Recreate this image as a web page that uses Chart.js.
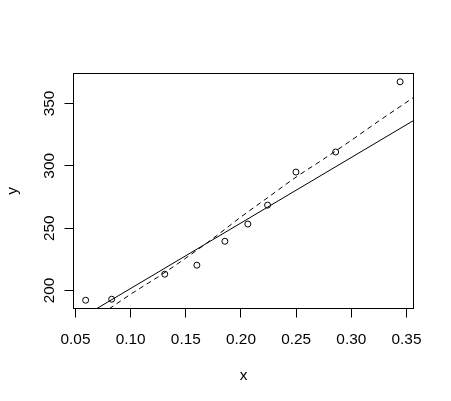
<!DOCTYPE html>
<html>
<head>
<meta charset="utf-8">
<style>
  html, body { margin: 0; padding: 0; background: #ffffff; }
  #wrap { width: 451px; height: 401px; }
</style>
<script src="https://cdn.jsdelivr.net/npm/chart.js@4/dist/chart.umd.min.js"></script>
</head>
<body>
<div id="wrap"><canvas id="c" width="451" height="401"></canvas></div>
<script>
// observed points
const pointX = [0.0592, 0.0828, 0.1309, 0.1600, 0.1854, 0.2062, 0.2241, 0.2498, 0.2858, 0.3442];
const pointY = [192.2, 193.0, 213.1, 220.3, 239.5, 253.3, 268.5, 295.0, 311.1, 367.4];
// solid straight line (read endpoints)
const solidX = [0.0689, 0.3565];
const solidY = [185.3, 336.4];
// dashed curve
const dashX = [0.0805, 0.1, 0.125, 0.15, 0.175, 0.2, 0.225, 0.25, 0.275, 0.3, 0.325, 0.3565];
const dashY = [185.3, 197, 211, 226, 242, 259, 275, 291, 305.5, 320.5, 336, 354.9];
// axis ticks
const xTicks = [0.05, 0.10, 0.15, 0.20, 0.25, 0.30, 0.35];
const xTickLabels = ["0.05", "0.10", "0.15", "0.20", "0.25", "0.30", "0.35"];
const yTicks = [200, 250, 300, 350];
const yTickLabels = ["200", "250", "300", "350"];
const xTitle = "x";
const yTitle = "y";

const FONT = '15.4px "Liberation Sans", Arial, sans-serif';

const toXY = (xs, ys) => xs.map((x, i) => ({ x: x, y: ys[i] }));

const rAxes = {
  id: 'rAxes',
  afterDraw(chart) {
    const ctx = chart.ctx;
    const a = chart.chartArea;
    const xs = chart.scales.x, ys = chart.scales.y;
    ctx.save();
    ctx.strokeStyle = '#000';
    ctx.fillStyle = '#000';
    ctx.lineWidth = 1;
    // box
    ctx.strokeRect(a.left, a.top, a.right - a.left, a.bottom - a.top);
    // x axis ticks
    ctx.beginPath();
    xTicks.forEach(v => {
      const px = Math.round(xs.getPixelForValue(v) - 0.5) + 0.5;
      ctx.moveTo(px, a.bottom);
      ctx.lineTo(px, a.bottom + 9);
    });
    yTicks.forEach(v => {
      const py = Math.round(ys.getPixelForValue(v) - 0.5) + 0.5;
      ctx.moveTo(a.left, py);
      ctx.lineTo(a.left - 9, py);
    });
    ctx.stroke();
    ctx.font = FONT;
    ctx.textAlign = 'center';
    ctx.textBaseline = 'alphabetic';
    xTicks.forEach((v, i) => {
      ctx.fillText(xTickLabels[i], xs.getPixelForValue(v), 343.5);
    });
    ctx.fillText(xTitle, (a.left + a.right) / 2, 380);
    yTicks.forEach((v, i) => {
      ctx.save();
      ctx.translate(53.5, ys.getPixelForValue(v));
      ctx.rotate(-Math.PI / 2);
      ctx.fillText(yTickLabels[i], 0, 0);
      ctx.restore();
    });
    ctx.save();
    ctx.translate(17, (a.top + a.bottom) / 2);
    ctx.rotate(-Math.PI / 2);
    ctx.fillText(yTitle, 0, 0);
    ctx.restore();
    ctx.restore();
  }
};

new Chart(document.getElementById('c'), {
  type: 'scatter',
  data: {
    datasets: [
      {
        label: 'points',
        data: toXY(pointX, pointY),
        pointStyle: 'circle',
        pointRadius: 3,
        pointBorderWidth: 1,
        pointBorderColor: '#000',
        pointBackgroundColor: 'rgba(0,0,0,0)',
        showLine: false
      },
      {
        label: 'fit',
        data: toXY(solidX, solidY),
        showLine: true,
        borderColor: '#000',
        borderWidth: 1,
        pointRadius: 0,
        fill: false
      },
      {
        label: 'smooth',
        data: toXY(dashX, dashY),
        showLine: true,
        borderColor: '#000',
        borderWidth: 1,
        borderDash: [5, 4],
        pointRadius: 0,
        tension: 0.3,
        cubicInterpolationMode: 'monotone',
        fill: false
      }
    ]
  },
  options: {
    responsive: false,
    animation: false,
    devicePixelRatio: 1,
    layout: { padding: { left: 73.5, right: 37.5, top: 73.5, bottom: 92.5 } },
    plugins: { legend: { display: false }, tooltip: { enabled: false } },
    scales: {
      x: { type: 'linear', min: 0.04819, max: 0.35635, display: false },
      y: { type: 'linear', min: 185.56, max: 374.06, display: false }
    }
  },
  plugins: [rAxes]
});
</script>
</body>
</html>
